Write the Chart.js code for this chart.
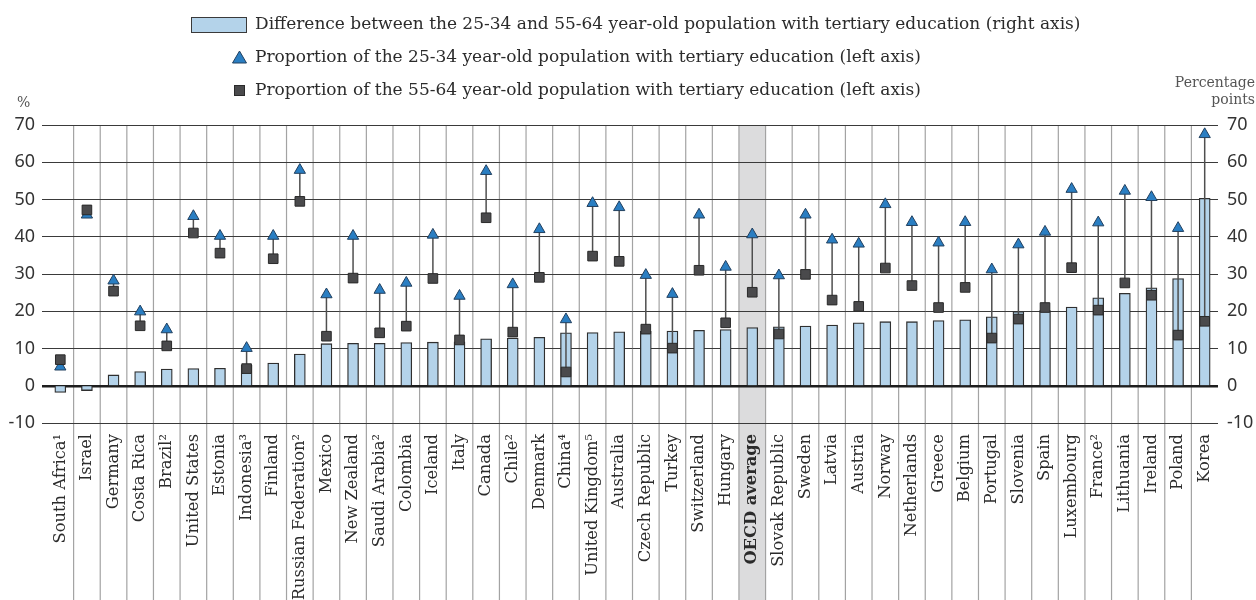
<!DOCTYPE html>
<html>
<head>
<meta charset="utf-8">
<script src="https://cdn.jsdelivr.net/npm/chart.js@4.4.0/dist/chart.umd.min.js"></script>
<style>
  html, body { margin: 0; padding: 0; background: #fff; overflow: hidden; }
  #wrap { width: 1256px; height: 600px; }
</style>
</head>
<body>
<div id="wrap"><canvas id="chart" width="1256" height="600"></canvas></div>
<script>
// tertiary attainment by age group, countries sorted by the gap

var countries = ['South Africa\u00b9', 'Israel', 'Germany', 'Costa Rica', 'Brazil\u00b2', 'United States', 'Estonia',
    'Indonesia\u00b3', 'Finland', 'Russian Federation\u00b2', 'Mexico', 'New Zealand', 'Saudi Arabia\u00b2', 'Colombia',
    'Iceland', 'Italy', 'Canada', 'Chile\u00b2', 'Denmark', 'China\u2074', 'United Kingdom\u2075', 'Australia',
    'Czech Republic', 'Turkey', 'Switzerland', 'Hungary', 'OECD average', 'Slovak Republic', 'Sweden', 'Latvia',
    'Austria', 'Norway', 'Netherlands', 'Greece', 'Belgium', 'Portugal', 'Slovenia', 'Spain', 'Luxembourg',
    'France\u00b2', 'Lithuania', 'Ireland', 'Poland', 'Korea'];

// 25-34 year-olds, % (left axis)
var young = [5.1, 45.9, 28.2, 19.9, 15.1, 45.5, 40.2, 10.1, 40.2, 57.9, 24.5, 40.2, 25.7, 27.6,
    40.5, 24.1, 57.6, 27.2, 42.0, 17.8, 49.0, 47.9, 29.7, 24.6, 45.9, 31.9, 40.6, 29.6, 45.9, 39.2,
    38.1, 48.7, 43.9, 38.4, 43.9, 31.2, 37.9, 41.3, 52.8, 43.8, 52.3, 50.6, 42.3, 67.5];

// 55-64 year-olds, % (left axis)
var old = [7.0, 47.2, 25.4, 16.1, 10.7, 41.0, 35.6, 4.6, 34.1, 49.5, 13.3, 28.9, 14.2, 16.0,
    28.8, 12.3, 45.1, 14.4, 29.1, 3.7, 34.8, 33.4, 15.2, 10.1, 31.0, 16.9, 25.1, 13.9, 29.9, 23.0,
    21.3, 31.6, 26.9, 21.0, 26.4, 12.8, 17.9, 21.0, 31.7, 20.3, 27.6, 24.3, 13.6, 17.3];

// gap in percentage points (right axis)
var gap = [-1.8, -1.3, 2.9, 3.8, 4.5, 4.6, 4.7, 5.5, 6.1, 8.5, 11.3, 11.4, 11.4, 11.6,
    11.7, 11.8, 12.6, 12.8, 13.0, 14.2, 14.3, 14.5, 14.6, 14.7, 14.9, 15.1, 15.6, 15.8, 16.0, 16.3,
    16.9, 17.2, 17.2, 17.5, 17.7, 18.5, 19.9, 20.2, 21.1, 23.6, 24.8, 26.3, 28.8, 50.3];

var yTicks = [-10, 0, 10, 20, 30, 40, 50, 60, 70];

var legendLabels = [
    'Difference between the 25-34 and 55-64 year-old population with tertiary education (right axis)',
    'Proportion of the 25-34 year-old population with tertiary education (left axis)',
    'Proportion of the 55-64 year-old population with tertiary education (left axis)'
];

var oecdIndex = countries.indexOf('OECD average');

var barColor = '#b4d3ea';
var triColor = '#2a7ec2';
var sqColor = '#4a4a4c';
var serif = '"DejaVu Serif", serif';
var sans = '"Noto Sans", sans-serif';

// shaded OECD column and the light vertical separators
var backdropPlugin = {
    id: 'backdrop',
    beforeDraw: function (chart) {
        var ctx = chart.ctx;
        var x = chart.scales.x;
        var top = chart.chartArea.top;
        var step = (chart.chartArea.right - chart.chartArea.left) / countries.length;

        ctx.save();
        ctx.fillStyle = '#dcdcdd';
        var cx = x.getPixelForValue(oecdIndex);
        ctx.fillRect(cx - step / 2, top, step, chart.height - top);

        ctx.strokeStyle = '#a3a3a3';
        ctx.lineWidth = 1.2;
        for (var i = 1; i < countries.length; i++) {
            var px = x.getPixelForValue(i) - step / 2;
            ctx.beginPath();
            ctx.moveTo(px, top);
            ctx.lineTo(px, chart.height);
            ctx.stroke();
        }
        ctx.restore();
    }
};

// line joining the two age groups, drawn over the bars
var connectorPlugin = {
    id: 'connector',
    afterDatasetDraw: function (chart, args) {
        if (args.index !== 0) return;
        var ctx = chart.ctx;
        var x = chart.scales.x;
        var y = chart.scales.y;
        ctx.save();
        ctx.strokeStyle = '#4f4f4f';
        ctx.lineWidth = 1.5;
        for (var i = 0; i < countries.length; i++) {
            var px = x.getPixelForValue(i);
            ctx.beginPath();
            ctx.moveTo(px, y.getPixelForValue(young[i]));
            ctx.lineTo(px, y.getPixelForValue(old[i]));
            ctx.stroke();
        }
        ctx.restore();
    }
};

// legend and axis captions
var legendPlugin = {
    id: 'legendText',
    afterDraw: function (chart) {
        var ctx = chart.ctx;
        ctx.save();

        ctx.fillStyle = barColor;
        ctx.strokeStyle = '#3a3a3a';
        ctx.lineWidth = 1;
        ctx.fillRect(191.5, 17.5, 55, 15);
        ctx.strokeRect(191.5, 17.5, 55, 15);

        ctx.beginPath();
        ctx.moveTo(239.5, 51);
        ctx.lineTo(246.5, 63);
        ctx.lineTo(232.5, 63);
        ctx.closePath();
        ctx.fillStyle = triColor;
        ctx.fill();
        ctx.strokeStyle = '#22405f';
        ctx.stroke();

        ctx.fillStyle = sqColor;
        ctx.fillRect(234.5, 85.5, 10, 10);
        ctx.strokeStyle = '#2a2a2a';
        ctx.strokeRect(234.5, 85.5, 10, 10);

        ctx.font = '17px ' + serif;
        ctx.fillStyle = '#2b2b2b';
        ctx.textBaseline = 'middle';
        ctx.textAlign = 'left';
        ctx.fillText(legendLabels[0], 255, 25);
        ctx.fillText(legendLabels[1], 255, 58);
        ctx.fillText(legendLabels[2], 255, 91);

        ctx.fillStyle = '#555';
        ctx.font = '14px ' + serif;
        ctx.fillText('%', 17, 103);
        ctx.textAlign = 'right';
        ctx.fillText('Percentage', 1255, 83);
        ctx.fillText('points', 1255, 100);
        ctx.restore();
    }
};

var ctx = document.getElementById('chart').getContext('2d');

var chart = new Chart(ctx, {
    type: 'bar',
    data: {
        labels: countries,
        datasets: [{
            type: 'bar',
            data: gap,
            yAxisID: 'y1',
            backgroundColor: barColor,
            borderColor: '#2f2f2f',
            borderWidth: 1.3,
            barThickness: 11,
            order: 3
        }, {
            type: 'line',
            data: young,
            yAxisID: 'y',
            showLine: false,
            pointStyle: 'triangle',
            pointRadius: 6.5,
            pointBackgroundColor: triColor,
            pointBorderColor: '#22405f',
            pointBorderWidth: 1,
            order: 2
        }, {
            type: 'line',
            data: old,
            yAxisID: 'y',
            showLine: false,
            pointStyle: 'rect',
            pointRadius: 6.8,
            pointBackgroundColor: sqColor,
            pointBorderColor: '#2a2a2a',
            pointBorderWidth: 1,
            order: 1
        }]
    },
    options: {
        responsive: false,
        animation: false,
        devicePixelRatio: 1,
        layout: {
            padding: { top: 125, left: 0, right: 0, bottom: 0 }
        },
        scales: {
            x: {
                offset: true,
                grid: { display: false, drawTicks: false },
                border: { display: false },
                ticks: {
                    autoSkip: false,
                    minRotation: 90,
                    maxRotation: 90,
                    padding: 11,
                    color: '#2b2b2b',
                    font: function (c) {
                        return { family: serif, size: 16.3, weight: c.index === oecdIndex ? 'bold' : 'normal' };
                    }
                },
                afterFit: function (scale) { scale.height = 177; }
            },
            y: {
                position: 'left',
                min: yTicks[0],
                max: yTicks[yTicks.length - 1],
                ticks: { stepSize: yTicks[1] - yTicks[0], padding: 7, color: '#333', font: { family: sans, size: 18 } },
                grid: {
                    color: function (c) { return c.tick && c.tick.value === 0 ? '#1e1e1e' : '#3a3a3a'; },
                    lineWidth: function (c) { return c.tick && c.tick.value === 0 ? 2.5 : 1; },
                    tickLength: 5
                },
                border: { display: false },
                afterFit: function (scale) { scale.width = 47; }
            },
            y1: {
                position: 'right',
                min: yTicks[0],
                max: yTicks[yTicks.length - 1],
                ticks: { stepSize: yTicks[1] - yTicks[0], padding: 9, color: '#333', font: { family: sans, size: 18 } },
                grid: { drawOnChartArea: false, drawTicks: false },
                border: { display: false },
                afterFit: function (scale) { scale.width = 38; }
            }
        },
        plugins: {
            legend: { display: false },
            tooltip: { enabled: false }
        }
    },
    plugins: [backdropPlugin, connectorPlugin, legendPlugin]
});
</script>
</body>
</html>
